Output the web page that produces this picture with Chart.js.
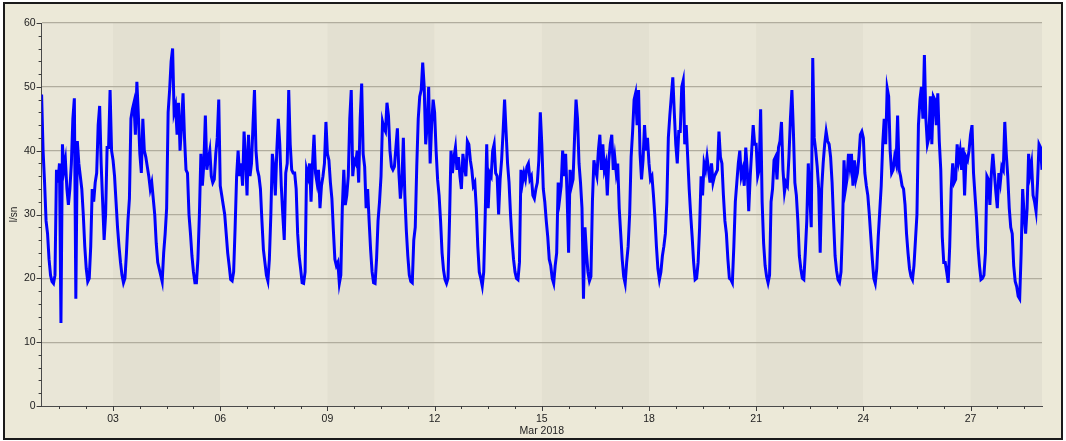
<!DOCTYPE html>
<html>
<head>
<meta charset="utf-8">
<script src="https://cdn.jsdelivr.net/npm/chart.js@4.4.1/dist/chart.umd.min.js"></script>
<style>
html, body { margin: 0; padding: 0; background: #fff; }
</style>
</head>
<body>
<canvas id="debiChart" width="1066" height="441"></canvas>
<script>
/* hourly flow (l/sn), 1 Mar 2018 00:00 -> 29 Mar 2018 00:00, one row per day */
const week1 = [
  48.8, 40, 35, 29, 27, 23, 20.5, 19.5, 19.2, 20.5, 37, 35, 38, 13, 41, 37, 38.5, 34, 31.5, 34, 38, 45, 48.2, 16.8,
  41.5, 38, 36, 34, 30, 25, 21.5, 19.5, 20, 25, 34, 32, 35, 36.5, 44, 47, 38, 32, 26, 30, 40.5, 40.5, 49.5, 40,
  38.5, 36, 32, 28, 25, 22.5, 20.5, 19.3, 20, 24, 29, 32.5, 45, 46.5, 47.5, 42.5, 50.8, 45.5, 39.5, 36.5, 45, 40, 39, 37.5,
  36, 34, 35, 32.5, 30, 25.5, 22.5, 21.5, 20.5, 19.5, 24, 27, 31, 46, 49.5, 54, 56, 46, 47, 42.5, 47.5, 40, 44, 49,
  42, 37, 36.5, 30, 27, 23.5, 21, 19.3, 19.3, 23, 30, 39.5, 34.5, 38, 45.5, 37, 38.6, 40, 36, 35, 35.5, 39.5, 42, 48,
  34.5, 33, 31.5, 30, 27, 24, 22, 19.8, 19.6, 21, 28, 36, 40, 36, 38, 34.5, 43, 39, 33, 42.5, 36, 38, 44, 49.5,
  40, 37, 36, 34, 29, 24.5, 22.5, 20.5, 19.6, 23, 30, 39.5, 37.5, 33, 40, 45, 41, 34.5, 30, 26, 36.5, 38, 49.5, 41
];
const week2 = [
  37, 36.5, 36.5, 34, 27, 23.5, 21.5, 19.3, 19.2, 21, 37, 36, 38, 32, 38, 42.5, 36.5, 35, 37, 31, 34.5, 36, 38, 44.5,
  39.5, 38.5, 35, 32.5, 27.5, 23, 22, 22.5, 19.2, 20.5, 31, 37, 31.5, 33, 36, 45, 49.5, 36, 38.5, 38, 40, 35, 45, 50.5,
  39.5, 37.5, 31, 34, 29, 24.5, 21, 19.3, 19.2, 23, 29, 32, 36, 44.5, 43.5, 43, 47.5, 45.5, 40, 37.5, 37, 37.5, 40.5, 43.5,
  36.5, 32.5, 35, 42, 33, 27.5, 23.5, 20.5, 19.5, 19.3, 26, 28, 37.5, 45, 48.5, 49.5, 53.8, 50, 41, 44, 50, 38, 44, 48,
  46, 40, 35.5, 33, 29, 24, 21.3, 19.8, 19.2, 20, 29, 40, 36.5, 39, 40.5, 37, 39, 36, 34, 39.5, 37.5, 36, 41.5, 41,
  38.5, 37, 34.5, 35, 31, 25, 21, 20, 18.8, 21, 30, 41, 31, 36.5, 36, 40, 41, 36.5, 36, 30, 35.5, 38.5, 43, 48,
  43, 38, 35, 30, 26, 23, 21, 20, 19.8, 22.5, 37, 35, 36.5, 35.5, 37.5, 38, 35.5, 36, 33, 32.5, 34, 35, 38.5, 46
];
const week3 = [
  41, 34, 32, 29, 26.5, 23, 22, 20, 19.2, 22, 24, 35, 32.5, 34.5, 40, 36, 39.5, 33, 24, 37, 34.5, 35.5, 42, 48,
  45, 38, 35, 31, 16.8, 28, 24, 21, 19.6, 20.3, 32, 38.5, 37, 36, 40, 42.5, 37, 41, 37, 38, 33, 38.5, 41, 42.5,
  37, 39, 36.5, 38, 31, 27, 23, 20.3, 19.2, 22.5, 25, 30, 39, 43, 48, 49, 44, 49.5, 39.5, 35.5, 38.5, 44, 40, 42,
  38, 35.5, 36, 33, 29.5, 25, 21.5, 19.8, 21, 23.5, 25, 27, 32, 42, 45.5, 48.5, 51.5, 46, 41, 38, 43, 43, 50, 51,
  41, 44, 39, 34, 30, 26.5, 22.5, 19.8, 20, 22.5, 28, 36, 33, 38, 37, 39, 37, 35, 38, 35, 36, 36.5, 37, 43,
  39, 38, 33, 29, 27, 23, 20, 19.8, 19.3, 25, 32, 35, 38, 40, 36, 37, 34.5, 40.5, 37, 30.5, 36, 40, 44, 41,
  41, 36, 37, 46.5, 32, 25.5, 22, 20.3, 19.3, 20.5, 32, 34, 38.5, 39, 35.5, 40.5, 41.5, 44.5, 37, 33.5, 35, 34.5, 39, 45
];
const week4 = [
  49.5, 43, 35, 33, 29, 23.5, 21.5, 20, 19.8, 24, 29, 38, 33, 28, 54.5, 42, 40, 37.5, 34, 24, 34, 38, 41, 43,
  41.5, 41, 39, 35, 29, 23.5, 21.2, 19.8, 19.4, 21, 28, 38.5, 34, 35.5, 39.5, 37.5, 39.5, 34.5, 38.5, 35.5, 36.5, 39, 42.5, 43,
  42, 36.5, 34.5, 33, 30, 26.5, 23, 20, 19.2, 21.5, 26.5, 30.5, 34.5, 41, 45, 41, 49.8, 48.5, 40, 36.5, 37, 39, 38, 45.5,
  37, 36, 34.5, 34, 31.5, 27, 24, 21.5, 20.3, 19.8, 22, 26, 30, 44, 48, 50, 45, 55, 45, 41, 42, 48.5, 41, 48.5,
  48, 44, 49, 41.5, 37, 26.5, 22.5, 22.5, 21, 19.3, 25, 34, 38, 35, 35.5, 41, 38.5, 40, 37, 40.5, 33, 39, 38.5, 40,
  42.5, 44, 36.5, 33, 29.5, 25, 22, 19.8, 20, 20.5, 24, 36, 35.5, 31.5, 36.5, 39.5, 36.5, 33.5, 31, 36.5, 35, 37.5, 37, 44.5,
  39.5, 36, 31, 28, 27, 22, 19.5, 18.7, 17.2, 16.8, 24, 34, 30, 27, 31, 39.5, 36.5, 38, 33, 32, 30.5, 35, 41, 40.5,
  37
];

// x axis: hours since 1 Mar 00:00
const labelHours = [48, 120, 192, 264, 336, 408, 480, 552, 624];
const labelTexts = ["03", "06", "09", "12", ["15", "Mar 2018"], "18", "21", "24", "27"];
const bandEdges = [0, 48, 120, 192, 264, 336, 408, 480, 552, 624, 672];

const values = week1.concat(week2, week3, week4);
const points = values.map((v, i) => ({ x: i, y: v }));

const axisFont = { family: "'Liberation Sans', Arial, sans-serif", size: 10.5, lineHeight: 1.15 };

const chartFrame = {
    id: "chartFrame",
    beforeDraw(chart) {
        const { ctx, chartArea, scales } = chart;
        ctx.save();
        ctx.fillStyle = "#ffffff";
        ctx.fillRect(0, 0, chart.width, chart.height);
        ctx.fillStyle = "#ece9d8";
        ctx.fillRect(4, 3, 1058, 436);
        ctx.strokeStyle = "#1a1a1a";
        ctx.lineWidth = 2;
        ctx.strokeRect(4, 3, 1058, 436);
        // alternating 3-day bands
        for (let i = 0; i < bandEdges.length - 1; i++) {
            const x0 = scales.x.getPixelForValue(bandEdges[i]);
            const x1 = scales.x.getPixelForValue(bandEdges[i + 1]);
            ctx.fillStyle = i % 2 === 0 ? "#e9e6d7" : "#e3e0d1";
            ctx.fillRect(x0, chartArea.top, x1 - x0, chartArea.bottom - chartArea.top);
        }
        ctx.restore();
    },
    afterDraw(chart) {
        const { ctx, chartArea, scales: { x, y } } = chart;
        ctx.save();
        ctx.strokeStyle = "#3c3c3c";
        ctx.lineWidth = 1;
        ctx.beginPath();
        for (let h = 12; h <= 672; h += 18) {
            const px = Math.round(x.getPixelForValue(h)) + 0.5;
            const len = (h - 48) % 72 === 0 ? 5 : 3;
            ctx.moveTo(px, chartArea.bottom);
            ctx.lineTo(px, chartArea.bottom + len);
        }
        for (let v = 0; v <= 60; v += 2) {
            const py = Math.round(y.getPixelForValue(v)) + 0.5;
            const len = v % 10 === 0 ? 5 : 3;
            ctx.moveTo(chartArea.left, py);
            ctx.lineTo(chartArea.left - len, py);
        }
        ctx.stroke();
        ctx.restore();
    }
};

const config = {
    type: "line",
    data: {
        datasets: [
            {
                label: "l/sn",
                data: points,
                borderColor: "#0000ff",
                borderWidth: 3,
                pointRadius: 0,
                tension: 0,
                fill: false,
            },
        ],
    },
    options: {
        responsive: false,
        animation: false,
        layout: { padding: { top: 23, right: 24, left: 0, bottom: 0 } },
        plugins: { legend: { display: false }, tooltip: { enabled: false } },
        scales: {
            x: {
                type: "linear",
                min: 0,
                max: 672,
                afterBuildTicks: (scale) => {
                    scale.ticks = labelHours.map((h) => ({ value: h }));
                },
                afterFit: (scale) => {
                    scale.height = 35;
                },
                ticks: {
                    autoSkip: false,
                    maxRotation: 0,
                    padding: 7,
                    color: "#222",
                    font: axisFont,
                    callback: (value) => labelTexts[labelHours.indexOf(value)],
                },
                grid: { display: false, drawTicks: false },
                border: { display: true, color: "#4a4a4a", width: 1 },
            },
            y: {
                min: 0,
                max: 60,
                afterFit: (scale) => {
                    scale.width = 41.6;
                },
                ticks: { stepSize: 10, padding: 6, color: "#222", font: axisFont },
                grid: {
                    drawTicks: false,
                    color: (ctx) => (ctx.tick.value === 0 ? "rgba(0,0,0,0)" : "#b1ad9e"),
                    lineWidth: 1.2,
                },
                border: { display: true, color: "#4a4a4a", width: 1 },
                title: {
                    display: true,
                    text: "l/sn",
                    color: "#222",
                    font: { family: "'Liberation Sans', Arial, sans-serif", size: 10 },
                    padding: { top: 8, bottom: 0 },
                },
            },
        },
    },
    plugins: [chartFrame],
};

const debiChart = new Chart(document.getElementById("debiChart"), config);
</script>
</body>
</html>
